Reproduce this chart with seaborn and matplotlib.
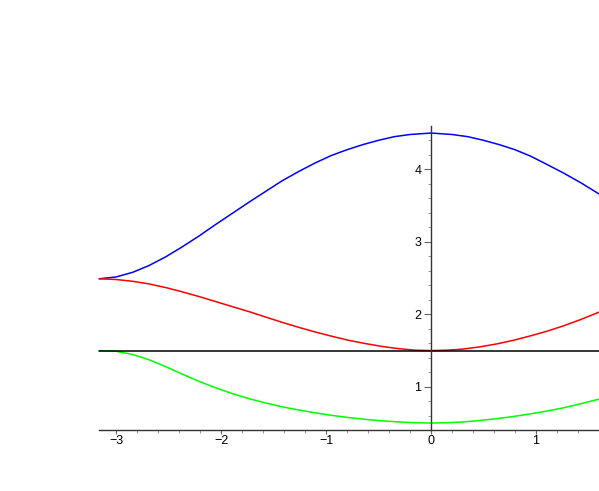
import numpy as np
import pandas as pd
import matplotlib
matplotlib.use("Agg")
import matplotlib.pyplot as plt
import seaborn as sns
from matplotlib.ticker import FixedLocator

# ---- data ----
blue_x = [-3.16, -3.00, -2.84, -2.69, -2.53, -2.37, -2.21, -2.05, -1.89, -1.73, -1.57,
          -1.42, -1.26, -1.10, -0.95, -0.80, -0.65, -0.50, -0.35, -0.20, 0.0, 0.20,
          0.35, 0.50, 0.65, 0.80, 0.95, 1.10, 1.26, 1.42, 1.60]
blue_y = [2.49, 2.515, 2.58, 2.67, 2.79, 2.93, 3.08, 3.24, 3.395, 3.55, 3.70,
          3.84, 3.97, 4.09, 4.19, 4.27, 4.34, 4.40, 4.45, 4.48, 4.50, 4.48,
          4.45, 4.40, 4.34, 4.27, 4.18, 4.07, 3.95, 3.82, 3.66]

rg_x = [-3.16, -3.00, -2.84, -2.69, -2.53, -2.37, -2.21, -2.05, -1.89, -1.73, -1.57,
        -1.42, -1.26, -1.10, -0.94, -0.78, -0.62, -0.46, -0.30, -0.15, 0.0,
        0.15, 0.30, 0.46, 0.62, 0.78, 0.94, 1.10, 1.26, 1.42, 1.60]
red_y = [2.49, 2.48, 2.455, 2.42, 2.37, 2.31, 2.245, 2.175, 2.105, 2.035, 1.96,
         1.89, 1.82, 1.755, 1.695, 1.64, 1.595, 1.555, 1.525, 1.505, 1.50,
         1.505, 1.52, 1.55, 1.59, 1.64, 1.70, 1.765, 1.84, 1.925, 2.03]
green_y = [1.50, 1.49, 1.445, 1.375, 1.28, 1.175, 1.075, 0.985, 0.905, 0.835, 0.775,
           0.725, 0.68, 0.64, 0.605, 0.575, 0.55, 0.53, 0.515, 0.505, 0.50,
           0.505, 0.515, 0.535, 0.56, 0.59, 0.625, 0.665, 0.71, 0.765, 0.83]

black_x = [-3.16, 1.60]
black_y = [1.5, 1.5]

x_ticks = [-3, -2, -1, 0, 1]
x_labels = ["\u22123", "\u22122", "\u22121", "0", "1"]
y_ticks = [1, 2, 3, 4]
y_labels = ["1", "2", "3", "4"]

df = pd.concat([
    pd.DataFrame({"x": blue_x, "y": blue_y, "curve": "blue"}),
    pd.DataFrame({"x": rg_x, "y": red_y, "curve": "red"}),
    pd.DataFrame({"x": rg_x, "y": green_y, "curve": "green"}),
    pd.DataFrame({"x": black_x, "y": black_y, "curve": "black"}),
], ignore_index=True)

sns.set_style("white")
plt.rcParams["font.family"] = ["Liberation Sans", "DejaVu Sans"]

fig = plt.figure(figsize=(5.99, 4.91), dpi=100)
ax = fig.add_axes([0, 0, 1, 1])
palette = {"blue": "#0000ff", "red": "#ff0000", "green": "#00ff00", "black": "#000000"}
sns.lineplot(data=df, x="x", y="y", hue="curve", palette=palette, sort=False,
             estimator=None, legend=False, linewidth=1.1, ax=ax)

ax.set_xlim(-4.105, 1.6)
ax.set_ylim(-0.437, 6.335)
ax.set_xlabel("")
ax.set_ylabel("")

for s in ["top", "right"]:
    ax.spines[s].set_visible(False)
ax.spines["left"].set_position(("data", 0))
ax.spines["bottom"].set_position(("data", 0.41))
ax.spines["left"].set_bounds(0.41, 4.6)
ax.spines["bottom"].set_bounds(-3.16, 1.6)
for s in ["left", "bottom"]:
    ax.spines[s].set_color("#333333")
    ax.spines[s].set_linewidth(1.0)

ax.xaxis.set_major_locator(FixedLocator(x_ticks))
ax.yaxis.set_major_locator(FixedLocator(y_ticks))
ax.xaxis.set_minor_locator(FixedLocator([v / 5 for v in range(-15, 9) if v % 5 != 0]))
ax.yaxis.set_minor_locator(FixedLocator([v / 5 for v in range(3, 23) if v % 5 != 0]))
ax.set_xticklabels(x_labels)
ax.set_yticklabels(y_labels)
ax.tick_params(axis="both", which="both", bottom=True, left=True, top=False, right=False)
ax.tick_params(axis="x", which="major", direction="out", length=3, width=0.8,
               colors="#666666", labelcolor="black", labelsize=9, pad=1)
ax.tick_params(axis="y", which="major", direction="out", length=5, width=0.8,
               colors="#666666", labelcolor="black", labelsize=9, pad=2)
ax.tick_params(axis="both", which="minor", direction="out", length=2, width=0.6,
               colors="#888888")
ax.patch.set_alpha(0)
fig.savefig("out.png", dpi=100)
